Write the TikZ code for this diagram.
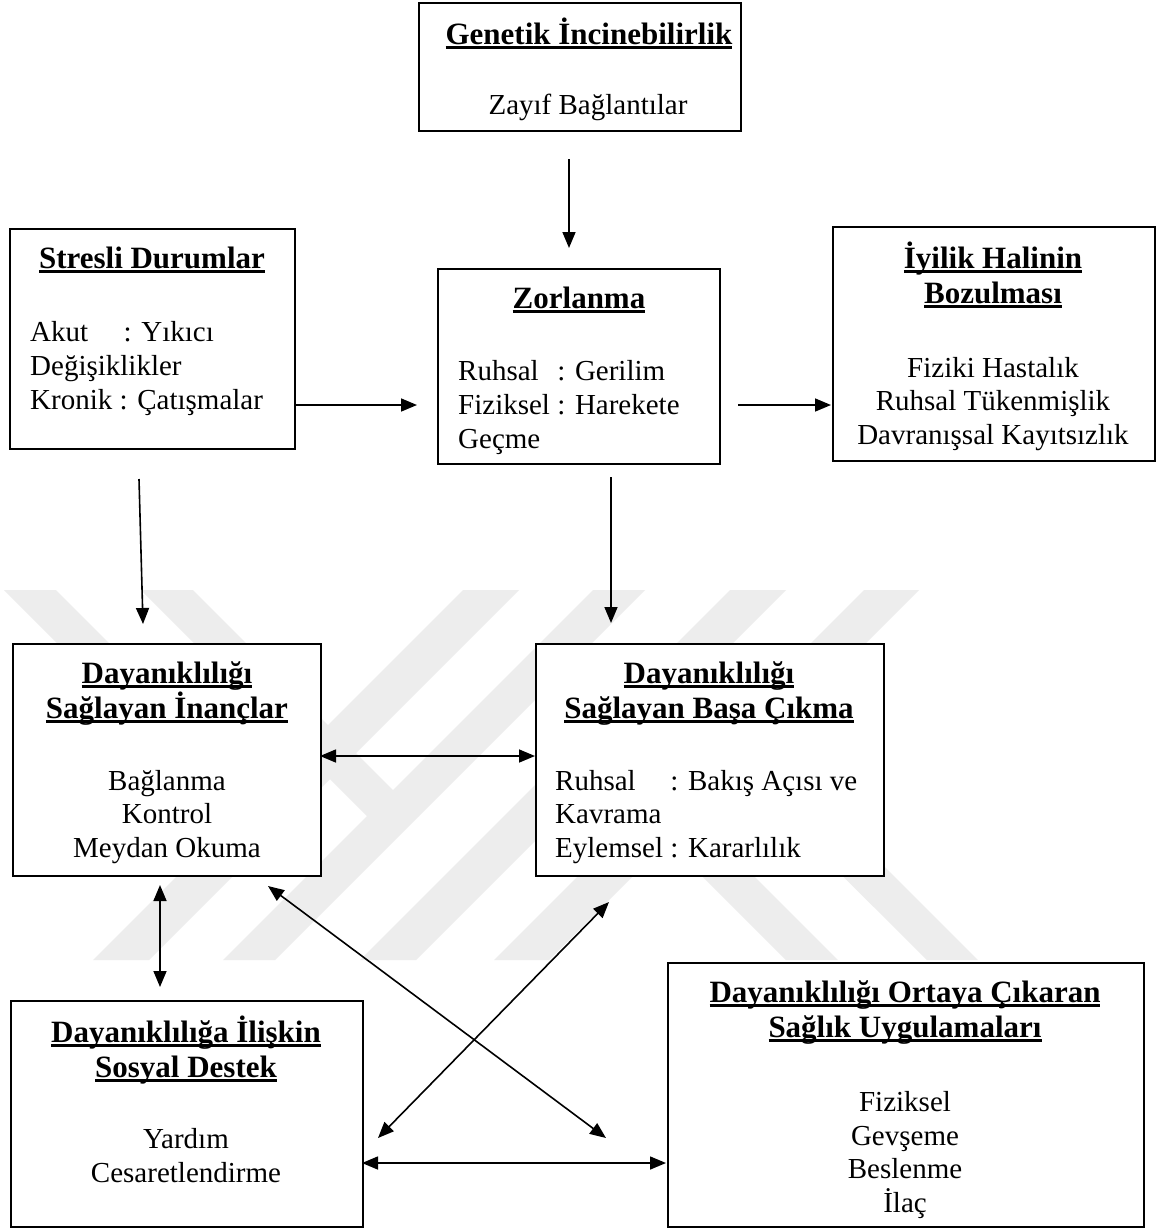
\documentclass[tikz,border=0pt]{standalone}
\usepackage{fontspec}
\setmainfont{Liberation Serif}
\usepackage{calc}
\usetikzlibrary{arrows.meta}
\newsavebox\ulsave
\newcommand\ult[1]{\sbox\ulsave{\fontsize{31}{35}\selectfont\bfseries #1}\leavevmode\rlap{\rule[-5pt]{\wd\ulsave}{3pt}}\usebox\ulsave}
\begin{document}
\begin{tikzpicture}[x=1pt,y=-1pt,
  font=\fontsize{29}{33.5}\selectfont,
  box/.style={draw, line width=1.8pt, fill=white, anchor=north west, inner sep=0pt},
  txt/.style={inner sep=0pt, anchor=base},
  txl/.style={inner sep=0pt, anchor=base west},
  tip/.tip={Triangle[length=16pt,width=13pt]},
  arr/.style={line width=1.6pt, -tip},
  darr/.style={line width=1.6pt, tip-tip},
  wm/.style={fill=black!7, draw=none}]
\useasboundingbox (0,0) rectangle (1162,1229);
\fill[white] (0,0) rectangle (1162,1229);

% watermark
\fill[wm] (463,590) -- (519,590) -- (149,960) -- (93,960) -- cycle;
\fill[wm] (593,590) -- (645,590) -- (275,960) -- (223,960) -- cycle;
\fill[wm] (730,590) -- (786,590) -- (416,960) -- (360,960) -- cycle;
\fill[wm] (864,590) -- (919,590) -- (549,960) -- (494,960) -- cycle;
\fill[wm] (4,590) -- (56,590) -- (286,820) -- (234,820) -- cycle;
\fill[wm] (141,590) -- (193,590) -- (419,816) -- (367,816) -- cycle;
\fill[wm] (786,960) -- (838,960) -- (626,748) -- (574,748) -- cycle;
\fill[wm] (927,960) -- (978,960) -- (763,745) -- (711,745) -- cycle;

% boxes
\node[box, minimum width=322pt, minimum height=128pt] (G) at (418,2) {};
\node[box, minimum width=285pt, minimum height=220pt] (S) at (9,228) {};
\node[box, minimum width=282pt, minimum height=195pt] (Z) at (437,268) {};
\node[box, minimum width=322pt, minimum height=234pt] (I) at (832,226) {};
\node[box, minimum width=308pt, minimum height=232pt] (DI) at (12,643) {};
\node[box, minimum width=348pt, minimum height=232pt] (DB) at (535,643) {};
\node[box, minimum width=352pt, minimum height=226pt] (SD) at (10,1000) {};
\node[box, minimum width=476pt, minimum height=264pt] (SU) at (667,962) {};

% texts
\node[txt] (g1) at (589,44) {\ult{Genetik İncinebilirlik}};
\node[txt] (g2) at (588,114) {Zayıf Bağlantılar};

\node[txt] (s1) at (152,268) {\ult{Stresli Durumlar}};
\node[txl] (s2) at (30,341) {\makebox[\widthof{Kronik }+4pt][l]{Akut}: Yıkıcı};
\node[txl] (s3) at (30,375) {Değişiklikler};
\node[txl] (s4) at (30,409) {Kronik : Çatışmalar};

\node[txt] (z1) at (579,308) {\ult{Zorlanma}};
\node[txl] (z2) at (458,380) {\makebox[\widthof{Fiziksel }][l]{Ruhsal}: Gerilim};
\node[txl] (z3) at (458,414) {Fiziksel : Harekete};
\node[txl] (z4) at (458,448) {Geçme};

\node[txt] (i1) at (993,268) {\ult{İyilik Halinin}};
\node[txt] (i2) at (993,303) {\ult{Bozulması}};
\node[txt] (i3) at (993,377) {Fiziki Hastalık};
\node[txt] (i4) at (993,410.5) {Ruhsal Tükenmişlik};
\node[txt] (i5) at (993,444) {Davranışsal Kayıtsızlık};

\node[txt] (di1) at (167,683) {\ult{Dayanıklılığı}};
\node[txt] (di2) at (167,718) {\ult{Sağlayan İnançlar}};
\node[txt] (di3) at (167,790) {Bağlanma};
\node[txt] (di4) at (167,823.5) {Kontrol};
\node[txt] (di5) at (167,857) {Meydan Okuma};

\node[txt] (db1) at (709,683) {\ult{Dayanıklılığı}};
\node[txt] (db2) at (709,718) {\ult{Sağlayan Başa Çıkma}};
\node[txl] (db3) at (555,790) {\makebox[\widthof{Eylemsel }][l]{Ruhsal}: Bakış Açısı ve};
\node[txl] (db4) at (555,823.5) {Kavrama};
\node[txl] (db5) at (555,857) {Eylemsel : Kararlılık};

\node[txt] (sd1) at (186,1042) {\ult{Dayanıklılığa İlişkin}};
\node[txt] (sd2) at (186,1077) {\ult{Sosyal Destek}};
\node[txt] (sd3) at (186,1148) {Yardım};
\node[txt] (sd4) at (186,1182) {Cesaretlendirme};

\node[txt] (su1) at (905,1002) {\ult{Dayanıklılığı Ortaya Çıkaran}};
\node[txt] (su2) at (905,1037) {\ult{Sağlık Uygulamaları}};
\node[txt] (su3) at (905,1111) {Fiziksel};
\node[txt] (su4) at (905,1145) {Gevşeme};
\node[txt] (su5) at (905,1178) {Beslenme};
\node[txt] (su6) at (905,1212) {İlaç};

% connector end points
\coordinate (gz1) at (569,159);  \coordinate (gz2) at (569,248);
\coordinate (sz1) at (294,405);  \coordinate (sz2) at (417,405);
\coordinate (zi1) at (738,405);  \coordinate (zi2) at (831,405);
\coordinate (sd1a) at (139,479); \coordinate (sd1b) at (143,624);
\coordinate (zd1) at (611,477);  \coordinate (zd2) at (611,623);
\coordinate (dd1) at (320,756);  \coordinate (dd2) at (535,756);
\coordinate (vs1) at (160,885);  \coordinate (vs2) at (160,987);
\coordinate (hs1) at (362,1163); \coordinate (hs2) at (666,1163);
\coordinate (da1) at (268,886);  \coordinate (da2) at (606,1138);
\coordinate (db1a) at (378,1138); \coordinate (db1b) at (609,902);

% connectors
\draw[arr] (gz1) -- (gz2);
\draw[arr] (sz1) -- (sz2);
\draw[arr] (zi1) -- (zi2);
\draw[arr] (sd1a) -- (sd1b);
\draw[arr] (zd1) -- (zd2);
\draw[darr] (dd1) -- (dd2);
\draw[darr] (vs1) -- (vs2);
\draw[darr] (hs1) -- (hs2);
\draw[darr] (da1) -- (da2);
\draw[darr] (db1a) -- (db1b);
\end{tikzpicture}
\end{document}
